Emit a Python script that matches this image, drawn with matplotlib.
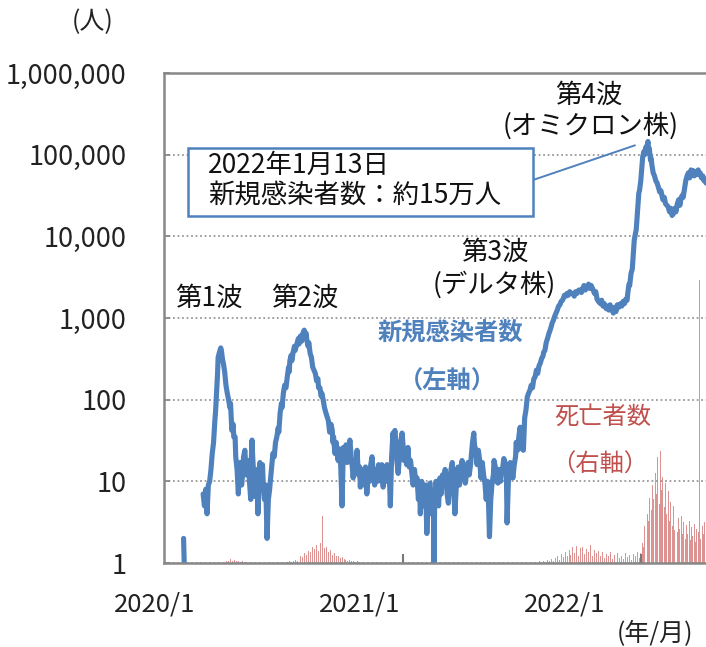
import numpy as np
import pandas as pd
import matplotlib
matplotlib.use('Agg')
import matplotlib.pyplot as plt
from matplotlib.patches import Rectangle
from matplotlib.ticker import FuncFormatter, NullLocator

plt.rcParams['font.family'] = ['Noto Sans CJK JP', 'DejaVu Sans']

start = pd.Timestamp('2020-01-01')
nan = np.nan

# 新規感染者数（左軸）: (2020/1/1 からの経過日数, 人数)
first_cases = [(30, 2), (31, 1), (45, nan)]
wave1 = [(60, 7), (62, 5), (64, 8), (66, 4), (68, 9), (70, 10), (72, 14), (74, 22),
         (76, 30), (78, 56), (79, 70), (81, 140), (82, 200), (83, 330), (85, 380),
         (87, 430), (88, 400), (90, 300), (91, 280), (93, 220), (95, 150), (97, 120),
         (99, 100), (101, 80), (102, 90), (104, 42), (106, 50), (107, 35), (109, 35),
         (110, 20), (112, 14), (114, 7), (115, 12), (117, 17), (119, 9), (120, 11),
         (122, 20), (124, 24), (126, 12), (127, 14), (129, 18), (131, 10), (133, 6),
         (134, 20), (135, 32), (136, 20), (137, 14), (139, 8), (140, 6.5), (142, 12),
         (143, 14), (144, 4), (146, 10), (147, 17), (149, 12), (151, 16), (152, 10),
         (154, 6), (156, 9), (158, 2), (160, 6), (162, 8), (163, 10)]
wave2 = [(165, 15), (167, 22), (169, 20), (171, 30), (173, 35), (175, 45), (176, 40),
         (178, 68), (180, 90), (181, 80), (183, 120), (185, 150), (187, 140), (189, 190),
         (191, 250), (192, 220), (193, 300), (195, 350), (196, 300), (198, 380),
         (200, 450), (201, 400), (204, 490), (206, 560), (207, 480), (209, 600),
         (211, 520), (212, 620), (214, 680), (215, 710), (216, 600), (218, 650),
         (219, 530), (221, 450), (222, 500), (224, 370), (226, 330), (228, 250),
         (230, 230), (232, 210), (234, 170), (236, 180), (237, 140), (239, 140),
         (241, 110), (242, 120), (244, 100), (246, 80), (248, 70), (250, 62), (252, 55),
         (254, 40), (256, 50), (258, 42), (259, 30), (260, 35), (262, 22), (264, 30),
         (266, 20), (267, 18), (269, 25), (271, 15), (273, 5), (274, 12), (275, 26),
         (277, 20), (279, 28), (281, 17), (283, 22), (285, 32), (287, 20), (289, 14),
         (290, 11), (292, 18), (294, 14), (296, 24), (298, 12), (300, 15), (301, 8.5),
         (303, 14), (305, 12.5), (307, 9), (309, 15), (311, 7), (313, 12), (315, 10),
         (317, 16), (319, 20), (321, 12), (323, 9), (325, 14), (327, 10), (329, 16),
         (331, 14), (333, 10), (334, 16), (336, 8.5), (338, 12), (340, 10), (342, 16),
         (344, 14), (346, 9), (347, 5), (349, 20), (351, 39), (352, 30), (354, 42),
         (356, 28), (357, 18), (359, 12.5), (361, 20), (363, 30), (365, 39), (367, 25),
         (368, 18), (370, 22), (372, 16), (374, 26), (376, 15), (378, 18), (380, 12.5),
         (382, 9), (384, 14), (386, 10), (388, 11), (390, 6), (392, 8), (393, 4),
         (395, 10), (397, 8.5), (399, 5), (401, 9), (403, 2.3), (405, 6), (406, 9),
         (408, 9.5), (410, 4), (411, 7), (413, 5), (414, 1), (415, 6), (417, 10),
         (419, 8), (421, 5), (423, 11), (425, 7), (427, 12), (429, 9), (431, 14),
         (433, 10), (434, 7), (436, 5.4), (438, 10), (440, 14), (442, 17), (444, 9),
         (446, 4), (448, 8), (449, 12), (451, 15), (453, 9), (455, 12), (457, 18),
         (459, 12), (461, 14), (462, 9.5), (464, 13), (466, 17), (468, 12), (470, 16),
         (472, 24), (473, 30), (475, 39), (476, 28), (478, 24), (480, 16), (482, 24),
         (484, 18), (486, 11), (488, 17), (490, 12), (492, 9.5), (494, 6), (496, 10),
         (497, 8), (499, 2.1), (501, 6), (503, 9.5), (505, 12), (506, 18), (508, 15),
         (510, 10), (512, 9.5), (514, 14), (516, 10), (517, 12), (519, 14), (521, 19),
         (523, 17), (525, 12), (526, 3.1), (528, 10), (529, 14), (531, 17), (533, 13),
         (535, 11), (537, 16), (539, 20), (540, 30), (542, 24), (544, 35), (545, 40),
         (546, 46), (548, 30), (549, 25), (551, 24)]
wave3 = [(553, 60), (555, 75), (557, 108), (559, 120), (561, 130), (563, 150),
         (565, 140), (567, 180), (569, 190), (571, 230), (573, 210), (575, 260),
         (577, 280), (579, 320), (581, 340), (582, 380), (584, 400), (586, 500),
         (588, 560), (590, 640), (592, 710), (594, 800), (595, 860), (597, 940),
         (599, 1050), (601, 1150), (603, 1250), (605, 1400), (607, 1450), (609, 1600),
         (611, 1650), (613, 1800), (614, 1900), (616, 1850), (618, 2000), (620, 1900),
         (622, 2100), (624, 2000), (627, 2000), (629, 1850), (631, 2100), (633, 2000),
         (636, 2200), (638, 2200), (640, 2050), (642, 2300), (644, 2500), (646, 2200),
         (649, 2400), (651, 2600), (653, 2300), (655, 2500), (658, 2200), (660, 2000),
         (662, 2100), (664, 1700), (666, 1600), (669, 1500), (671, 1650), (673, 1400),
         (675, 1500), (678, 1300), (680, 1400), (682, 1250), (684, 1450), (686, 1300),
         (689, 1150), (691, 1350), (693, 1200), (695, 1450), (697, 1350), (700, 1500),
         (702, 1400), (704, 1600), (706, 1500), (708, 1700), (710, 1650)]
wave4 = [(711, 2000), (713, 2600), (714, 2500), (716, 3500), (718, 4000), (721, 9000),
         (722, 10000), (724, 12000), (726, 20000), (728, 34000), (729, 36000),
         (731, 48000), (732, 60000), (734, 95000), (736, 110000), (737, 100000),
         (739, 125000), (740, 115000), (742, 145000), (743, 110000), (744, 120000),
         (746, 85000), (747, 90000), (748, 75000), (750, 60000), (752, 55000),
         (754, 48000), (756, 45000), (758, 40000), (760, 35000), (762, 36000),
         (764, 30000), (765, 28000), (767, 30000), (769, 25000), (771, 24000),
         (773, 23000), (775, 20000), (777, 22000), (779, 18000), (781, 19000),
         (783, 22000), (785, 20000), (787, 25000), (789, 28000), (791, 24000),
         (793, 30000), (795, 32000), (796, 30000), (798, 38000), (800, 48000),
         (802, 55000), (804, 60000), (806, 52000), (808, 65000), (810, 58000),
         (811, 64000), (813, 55000), (815, 62000), (817, 57000), (819, 65000),
         (820, 58000), (822, 60000), (824, 52000), (826, 55000), (828, 48000),
         (830, 50000), (831, 45000)]

# 死亡者数（右軸）
death_days_1 = [96, 99, 102, 105, 108, 111, 114, 117, 120, 123]
deaths_1 = [3, 2, 5, 3, 4, 2, 3, 1, 2, 1]
death_days_2 = list(range(189, 301, 3))
deaths_2 = [1, 2, 1, 3, 4, 3, 6, 8, 7, 12, 10, 15, 13, 19, 17, 22, 15, 25, 58,
            18, 20, 14, 16, 10, 12, 8, 9, 6, 7, 5, 4, 3, 4, 2, 3, 1, 2, 1]
death_days_3 = list(range(570, 730, 3))
deaths_3 = [1, 0, 2, 1, 3, 1, 4, 2, 5, 3, 6,
            9, 4, 11, 7, 14, 8, 16, 10, 19, 12, 21, 9, 18,
            20, 11, 17, 14, 22, 9, 16, 12, 15, 8,
            13, 6, 11, 9, 14, 5, 10, 8, 12, 6,
            9, 5, 12, 7, 10, 4, 11, 8, 13, 6]
death_days_4 = list(range(731, 831, 2))
deaths_4 = [12, 25, 20, 45, 38, 60, 52, 80, 65, 95,
            78, 110, 85, 130, 72, 137, 90, 105, 68, 98,
            60, 88, 52, 75, 45, 70, 40, 64, 38, 55,
            42, 58, 35, 50, 30, 47, 36, 52, 28, 44,
            33, 48, 26, 42, 38, 347, 30, 45, 35, 50]

y_ticks = [1, 10, 100, 1000, 10000, 100000, 1000000]
x_ticks = ['2021-01-01', '2022-01-01']
x_labels = ['2020/1', '2021/1', '2022/1']

blue = '#4f81bd'
red = '#c0504d'
W, H = 706, 647


def fx(px):
    return px / W


def fy(py):
    return 1 - py / H


fig = plt.figure(figsize=(W / 100, H / 100), dpi=100)
ax = fig.add_axes([fx(164), fy(563), fx(706) - fx(164), fy(73) - fy(563)])
ax2 = ax.twinx()

# deaths as thin bars behind the line
d_days = death_days_1 + death_days_2 + death_days_3 + death_days_4
d_vals = deaths_1 + deaths_2 + deaths_3 + deaths_4
d_dates = start + pd.to_timedelta(d_days, unit='D')
ax2.bar(d_dates, d_vals, width=1.5, color='#cf6664', alpha=0.7, linewidth=0)
ax2.set_ylim(0, 600)
ax2.set_yticks([])
for s in ax2.spines.values():
    s.set_visible(False)

ax.set_zorder(ax2.get_zorder() + 1)
ax.patch.set_visible(False)

points = first_cases + wave1 + wave2 + wave3 + wave4
case_days = [p[0] for p in points]
cases = [p[1] for p in points]
c_dates = start + pd.to_timedelta(case_days, unit='D')
ax.plot(c_dates, cases, color=blue, linewidth=3.7, solid_joinstyle='round',
        solid_capstyle='round')

ax.set_yscale('log')
ax.set_ylim(1, 1000000)
ax.set_xlim(start, start + pd.Timedelta(days=831))
ax.set_yticks(y_ticks)
ax.yaxis.set_minor_locator(NullLocator())
ax.yaxis.set_major_formatter(FuncFormatter(lambda v, p: f'{v:,.0f}'))
ax.yaxis.grid(True, linestyle=(0, (1, 1.5)), color='#999999', linewidth=1.3)
ax.tick_params(axis='y', direction='in', length=4, width=1.3, color='#888888',
               labelsize=19.5, pad=27, labelcolor='#222222')
ax.set_xticks(pd.to_datetime(x_ticks))
ax.set_xticklabels([])
ax.tick_params(axis='x', direction='in', length=6.5, width=1.5, color='#777777')
for side in ['left', 'bottom', 'top']:
    ax.spines[side].set_color('#888888')
    ax.spines[side].set_linewidth(1.8)
ax.spines['right'].set_visible(False)

# text labels
for lab, px in zip(x_labels, [155, 360, 565]):
    fig.text(fx(px), fy(604), lab, ha='center', va='center', fontsize=18.5, color='#222222')
fig.text(fx(655), fy(634), '(年/月)', ha='center', va='center', fontsize=18, color='#222222')
fig.text(fx(93), fy(22), '(人)', ha='center', va='center', fontsize=18, color='#222222')

fig.text(fx(209), fy(298), '第1波', ha='center', va='center', fontsize=19, color='#111111')
fig.text(fx(305), fy(298), '第2波', ha='center', va='center', fontsize=19, color='#111111')
fig.text(fx(495), fy(252), '第3波', ha='center', va='center', fontsize=19, color='#111111')
fig.text(fx(494), fy(285), '(デルタ株)', ha='center', va='center', fontsize=19, color='#111111')
fig.text(fx(589), fy(95), '第4波', ha='center', va='center', fontsize=19, color='#111111')
fig.text(fx(591), fy(126), '(オミクロン株)', ha='center', va='center', fontsize=19, color='#111111')

fig.text(fx(450), fy(333), '新規感染者数', ha='center', va='center', fontsize=17.5,
         color=blue, fontweight='bold')
fig.text(fx(447), fy(382), '（左軸）', ha='center', va='center', fontsize=17.5,
         color=blue, fontweight='bold')
fig.text(fx(603), fy(417), '死亡者数', ha='center', va='center', fontsize=17.5, color=red)
fig.text(fx(600), fy(465), '（右軸）', ha='center', va='center', fontsize=17.5, color=red)

# callout box for the peak
box = Rectangle((fx(188), fy(216)), fx(533) - fx(188), fy(148) - fy(216),
                transform=fig.transFigure, facecolor='white', edgecolor=blue,
                linewidth=1.8, zorder=5)
fig.add_artist(box)
fig.text(fx(208), fy(165), '2022年1月13日', ha='left', va='center', fontsize=19,
         color='#111111', zorder=6)
fig.text(fx(208), fy(195), '新規感染者数：約15万人', ha='left', va='center', fontsize=19,
         color='#111111', zorder=6)
ax.annotate('', xy=(start + pd.Timedelta(days=722), 130000), xycoords='data',
            xytext=(fx(533), fy(180)), textcoords='figure fraction',
            arrowprops=dict(arrowstyle='-', color=blue, lw=1.4, shrinkA=0, shrinkB=0))

fig.savefig('out.png', dpi=100)
